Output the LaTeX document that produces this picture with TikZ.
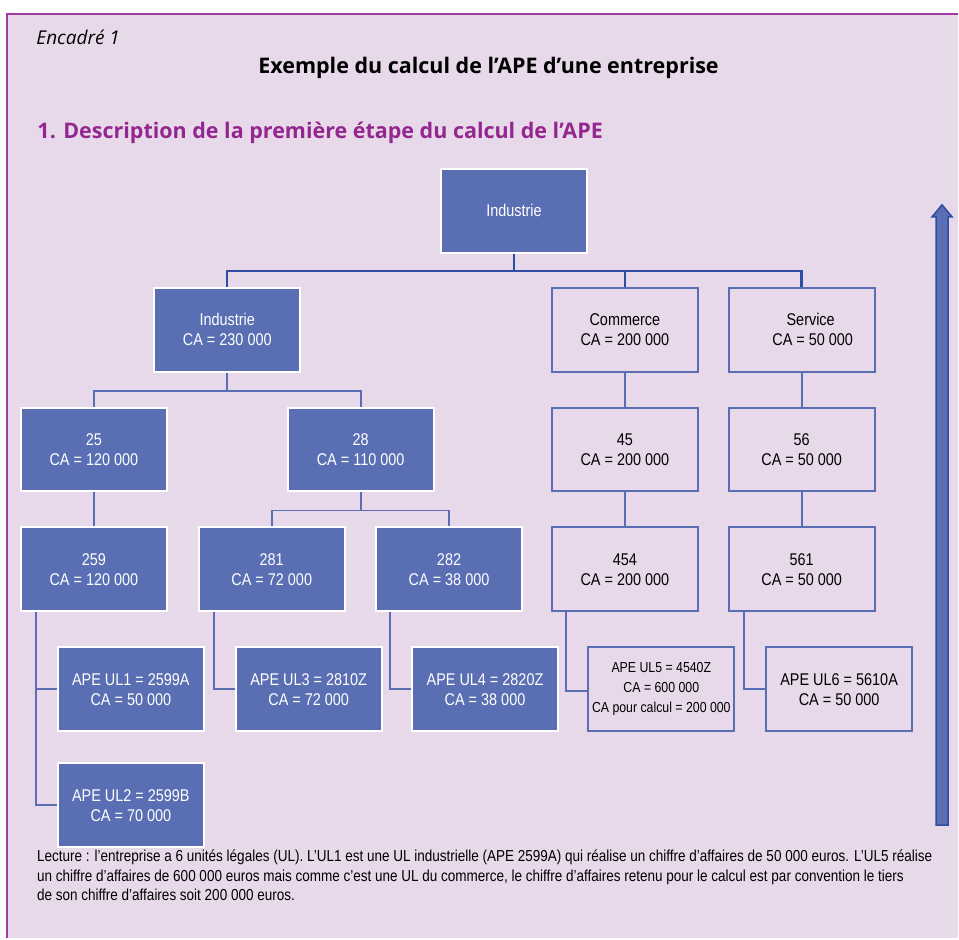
\documentclass[tikz,border=0pt]{standalone}
\usepackage{fontspec}
\setmainfont{Open Sans}
\newfontfamily\boxfont[FakeStretch=0.85]{Liberation Sans}
\definecolor{fond}{HTML}{E8D9EA}
\definecolor{cadre}{HTML}{A23BA0}
\definecolor{violet}{HTML}{93278F}
\definecolor{bleu}{HTML}{5A6FB3}
\definecolor{bleufonce}{HTML}{2E4DA2}

\begin{document}
\begin{tikzpicture}[x=1pt, y=-1pt,
    plein/.style={rectangle, draw=white, line width=2pt, fill=bleu, text=white,
      minimum width=146pt, minimum height=84pt, inner sep=0pt, align=center,
      font=\boxfont\fontsize{17}{20}\selectfont},
    vide/.style={plein, draw=bleu, fill=fond, text=black},
    lien/.style={draw=bleu, line width=1.8pt}]
  % fond et cadre
  \fill[white] (0,0) rectangle (959,939);
  \fill[fond] (7,14) rectangle (959,939);
  \draw[cadre, line width=2pt] (7,939) -- (7,14) -- (959,14);

  \node[anchor=west, font=\itshape\fontsize{19}{22}\selectfont] (encadre) at (33,37) {Encadré 1};
  \node[font=\bfseries\fontsize{21.5}{24}\selectfont] (titre) at (489,68) {Exemple du calcul de l’APE d’une entreprise};
  \node[anchor=west, text=violet, font=\bfseries\fontsize{21.5}{24}\selectfont] (partie) at (34,133) {1. Description de la première étape du calcul de l’APE};

  % arbre
  \node[plein] (top) at (514.5,211) {Industrie};
  \node[plein] (ind) at (227.5,330) {Industrie\\CA = 230 000};
  \node[vide] (com) at (625.5,330) {Commerce\\CA = 200 000};
  \node[vide] (ser) at (802.5,330) {\hspace*{18pt}Service\\\hspace*{22pt}CA = 50 000};
  \node[plein] (n25) at (94,450) {25\\CA = 120 000};
  \node[plein] (n28) at (361,450) {28\\CA = 110 000};
  \node[vide] (n45) at (625.5,450) {45\\CA = 200 000};
  \node[vide] (n56) at (802.5,450) {56\\CA = 50 000};
  \node[plein] (n259) at (94,570) {259\\CA = 120 000};
  \node[plein] (n281) at (272,570) {281\\CA = 72 000};
  \node[plein] (n282) at (449.5,570) {282\\CA = 38 000};
  \node[vide] (n454) at (625.5,570) {454\\CA = 200 000};
  \node[vide] (n561) at (802.5,570) {561\\CA = 50 000};
  \node[plein] (ul1) at (131,690) {APE UL1 = 2599A\\CA = 50 000};
  \node[plein] (ul2) at (131,806) {APE UL2 = 2599B\\CA = 70 000};
  \node[plein] (ul3) at (309,690) {APE UL3 = 2810Z\\CA = 72 000};
  \node[plein] (ul4) at (485.5,690) {APE UL4 = 2820Z\\CA = 38 000};
  \node[vide, font=\boxfont\fontsize{14.5}{20}\selectfont] (ul5) at (662,690) {APE UL5 = 4540Z\\CA = 600 000\\CA pour calcul = 200 000};
  \node[vide] (ul6) at (840,690) {APE UL6 = 5610A\\CA = 50 000};

  \draw[lien, draw=bleufonce, line width=2.4pt] (top.south) -- ++(0,17) -| (ind.north);
  \draw[lien, draw=bleufonce, line width=2.4pt] (top.south) -- ++(0,17) -| (com.north);
  \draw[lien, draw=bleufonce, line width=2.4pt] (top.south) -- ++(0,17) -| (ser.north);
  \draw[lien] (ind.south) -- ++(0,18) -| (n25.north);
  \draw[lien] (ind.south) -- ++(0,18) -| (n28.north);
  \draw[lien] (n28.south) -- ++(0,18) -| (n281.north);
  \draw[lien] (n28.south) -- ++(0,18) -| (n282.north);
  \draw[lien] (com) -- (n45);
  \draw[lien] (n45) -- (n454);
  \draw[lien] (ser) -- (n56);
  \draw[lien] (n56) -- (n561);
  \draw[lien] (n25) -- (n259);
  \draw[lien] ([xshift=16pt]n259.south west) |- (ul1.west);
  \draw[lien] ([xshift=16pt]n259.south west) |- (ul2.west);
  \draw[lien] ([xshift=16pt]n281.south west) |- (ul3.west);
  \draw[lien] ([xshift=15pt]n282.south west) |- (ul4.west);
  \draw[lien] ([xshift=15pt]n454.south west) |- ([yshift=-2pt]ul5.west);
  \draw[lien] ([xshift=16pt]n561.south west) |- (ul6.west);

  % fleche
  \draw[bleufonce, fill=bleu, line width=1.5pt] (937,826) -- (937,217) -- (933,217) -- (943,205)
    -- (953,217) -- (949,217) -- (949,826) -- cycle;

  \node[anchor=north west, align=left, inner sep=0pt, font=\boxfont\fontsize{15.9}{20}\selectfont] (lecture) at (37,850)
    {Lecture : l’entreprise a 6 unités légales (UL). L’UL1 est une UL industrielle (APE 2599A) qui réalise un chiffre d’affaires de 50 000 euros. L’UL5 réalise\\
     un chiffre d’affaires de 600 000 euros mais comme c’est une UL du commerce, le chiffre d’affaires retenu pour le calcul est par convention le tiers\\
     de son chiffre d’affaires soit 200 000 euros.};
\end{tikzpicture}
\end{document}
